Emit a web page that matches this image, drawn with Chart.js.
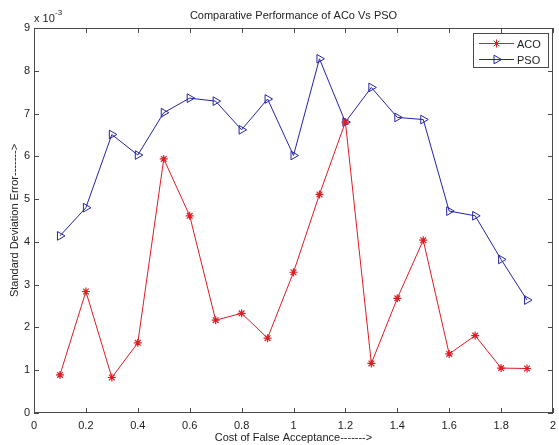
<!DOCTYPE html>
<html>
<head>
<meta charset="utf-8">
<script src="https://cdn.jsdelivr.net/npm/chart.js@4/dist/chart.umd.min.js"></script>
<style>
    html, body { margin: 0; padding: 0; background: #ffffff; }
    #wrap { width: 559px; height: 445px; position: relative; }
</style>
</head>
<body>
<div id="wrap"><canvas id="chart"></canvas></div>
<script>
// cost of false acceptance (x) and standard deviation error (y, real values)
var costValues = [0.1, 0.2, 0.3, 0.4, 0.5, 0.6, 0.7, 0.8, 0.9, 1.0, 1.1, 1.2, 1.3, 1.4, 1.5, 1.6, 1.7, 1.8, 1.9];
var acoValues = [0.00089, 0.00284, 0.00083, 0.00164, 0.00594, 0.00461, 0.00217, 0.00233, 0.00175, 0.00329,
                 0.00511, 0.00680, 0.00116, 0.00268, 0.00404, 0.00138, 0.00181, 0.00105, 0.00104];
var psoValues = [0.00414, 0.00480, 0.00651, 0.00603, 0.00702, 0.00736, 0.00729, 0.00662, 0.00734, 0.00602,
                 0.00828, 0.00680, 0.00761, 0.00691, 0.00686, 0.00472, 0.00461, 0.00359, 0.00264];
var xTicks = [0, 0.2, 0.4, 0.6, 0.8, 1, 1.2, 1.4, 1.6, 1.8, 2];
var yTicks = [0, 0.001, 0.002, 0.003, 0.004, 0.005, 0.006, 0.007, 0.008, 0.009];
var seriesNames = ["ACO", "PSO"];

var titleText = "Comparative Performance of ACo Vs PSO";
var xTitle = "Cost of False Acceptance------->";
var yTitle = "Standard Deviation Error------->";

var FONT = '"Liberation Sans", Arial, sans-serif';
var RED = "#e01b24";
var BLUE = "#2323a8";
var AXIS = "#4a4a4a";
var TEXT = "#222";

function points(ys) {
    return costValues.map(function (x, i) { return { x: x, y: ys[i] }; });
}

// box, inward ticks, titles, exponent and legend drawn MATLAB style
var matlabFrame = {
    id: "matlabFrame",
    afterDraw: function (chart) {
        var ctx = chart.ctx,
            a = chart.chartArea,
            xs = chart.scales.x,
            ys = chart.scales.y,
            tl = 5;

        ctx.save();
        ctx.strokeStyle = AXIS;
        ctx.lineWidth = 1;
        ctx.strokeRect(Math.round(a.left) + 0.5, Math.round(a.top) + 0.5,
                       Math.round(a.right - a.left) - 1, Math.round(a.bottom - a.top) - 1);

        ctx.beginPath();
        xs.ticks.forEach(function (t) {
            var px = Math.round(xs.getPixelForValue(t.value)) + 0.5;
            ctx.moveTo(px, a.bottom); ctx.lineTo(px, a.bottom - tl);
            ctx.moveTo(px, a.top); ctx.lineTo(px, a.top + tl);
        });
        ys.ticks.forEach(function (t) {
            var py = Math.round(ys.getPixelForValue(t.value)) + 0.5;
            ctx.moveTo(a.left, py); ctx.lineTo(a.left + tl, py);
            ctx.moveTo(a.right, py); ctx.lineTo(a.right - tl, py);
        });
        ctx.stroke();

        ctx.fillStyle = TEXT;
        ctx.font = "11px " + FONT;
        ctx.textAlign = "center";
        ctx.textBaseline = "alphabetic";
        ctx.fillText(titleText, (a.left + a.right) / 2, 19);
        ctx.fillText(xTitle, (a.left + a.right) / 2, 441);

        ctx.save();
        ctx.translate(15, (a.top + a.bottom) / 2);
        ctx.rotate(-Math.PI / 2);
        ctx.textBaseline = "middle";
        ctx.fillText(yTitle, 0, 0);
        ctx.restore();

        // exponent label
        ctx.textAlign = "left";
        ctx.fillText("x 10", a.left, 22);
        ctx.font = "8px " + FONT;
        ctx.fillText("-3", a.left + 21, 15);

        // legend
        var lx = a.right - 80, ly = a.top + 5, lw = 75, lh = 34;
        ctx.fillStyle = "#fff";
        ctx.fillRect(lx, ly, lw, lh);
        ctx.strokeStyle = AXIS;
        ctx.strokeRect(lx + 0.5, ly + 0.5, lw, lh);
        ctx.font = "11px " + FONT;
        ctx.textBaseline = "middle";
        chart.data.datasets.forEach(function (ds, i) {
            var ry = ly + 10.5 + i * 16;
            ctx.strokeStyle = ds.borderColor;
            ctx.lineWidth = 1;
            ctx.beginPath();
            ctx.moveTo(lx + 6, ry); ctx.lineTo(lx + 41, ry);
            ctx.stroke();
            if (Chart.helpers && Chart.helpers.drawPoint) {
                ctx.fillStyle = "rgba(0,0,0,0)";
                Chart.helpers.drawPoint(ctx, {
                    pointStyle: ds.pointStyle,
                    rotation: ds.pointRotation || 0,
                    radius: ds.pointRadius,
                    borderWidth: 1
                }, lx + 23.5, ry);
            }
            ctx.fillStyle = TEXT;
            ctx.fillText(ds.label, lx + 44, ry + 1);
        });
        ctx.restore();
    }
};

var ctx = document.getElementById("chart").getContext("2d");

new Chart(ctx, {
    type: "scatter",
    plugins: [matlabFrame],
    data: {
        datasets: [
            {
                label: seriesNames[0],
                data: points(acoValues),
                showLine: true,
                borderColor: RED,
                backgroundColor: "rgba(0,0,0,0)",
                borderWidth: 1,
                pointStyle: "star",
                pointRadius: 4,
                pointBorderWidth: 1.2,
                pointBorderColor: RED
            },
            {
                label: seriesNames[1],
                data: points(psoValues),
                showLine: true,
                borderColor: BLUE,
                backgroundColor: "rgba(0,0,0,0)",
                borderWidth: 1,
                pointStyle: "triangle",
                pointRotation: 90,
                pointRadius: 5,
                pointBorderWidth: 1,
                pointBorderColor: BLUE
            }
        ]
    },
    options: {
        responsive: true,
        maintainAspectRatio: false,
        animation: false,
        layout: {
            padding: { top: 28, right: 3, left: 0, bottom: 0 }
        },
        scales: {
            x: {
                type: "linear",
                min: 0,
                max: 2,
                afterBuildTicks: function (scale) {
                    scale.ticks = xTicks.map(function (v) { return { value: v }; });
                },
                afterFit: function (scale) {
                    scale.height = 32;
                    scale.paddingLeft = 0;
                    scale.paddingRight = 0;
                },
                grid: { display: false, drawTicks: false },
                border: { display: false },
                ticks: {
                    color: TEXT,
                    padding: 6,
                    maxRotation: 0,
                    autoSkip: false,
                    font: { family: FONT, size: 11 },
                    callback: function (value) {
                        return String(Math.round(value * 10) / 10);
                    }
                }
            },
            y: {
                type: "linear",
                min: 0,
                max: 0.009,
                afterBuildTicks: function (scale) {
                    scale.ticks = yTicks.map(function (v) { return { value: v }; });
                },
                afterFit: function (scale) {
                    scale.width = 34;
                    scale.paddingTop = 0;
                    scale.paddingBottom = 0;
                },
                grid: { display: false, drawTicks: false },
                border: { display: false },
                ticks: {
                    color: TEXT,
                    padding: 4,
                    autoSkip: false,
                    font: { family: FONT, size: 11 },
                    callback: function (value) {
                        return String(Math.round(value * 1000));
                    }
                }
            }
        },
        plugins: {
            legend: { display: false },
            tooltip: { enabled: false },
            title: { display: false }
        }
    }
});
</script>
</body>
</html>
